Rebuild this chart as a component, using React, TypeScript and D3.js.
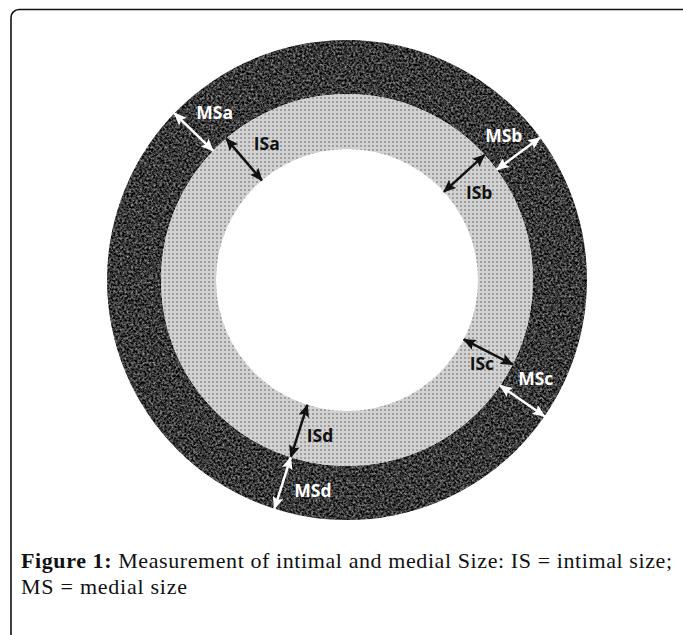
import { useMemo } from 'react';
import * as d3 from 'd3';

// ring boundaries (px radius) : lumen, intima, media
const ringNames = ['lumen', 'intima', 'media'];
const ringRadii = [131, 186, 240];

// measurement arrows
const measureLabels = ['ISa', 'MSa', 'ISb', 'MSb', 'ISc', 'MSc', 'ISd', 'MSd'];
const measureLayer = ['intima', 'media', 'intima', 'media', 'intima', 'media', 'intima', 'media'];
const measureAngle = [-130.5, -136, -42.3, -36.4, 27, 34.6, 107.6, 107.6];
const labelAngle = [-120.4, -128.4, -33.5, -42.6, 31.7, 27.6, 99.8, 99.2];

const captionBold = 'Figure 1:';
const captionLine1 = ' Measurement of intimal and medial Size: IS = intimal size;';
const captionLine2 = 'MS = medial size';

const W = 683;
const H = 635;
const cx = 347;
const cy = 280;

export default function App() {
    const rad = d3.scaleLinear().domain([0, 180]).range([0, Math.PI]);

    const arrows = useMemo(() => measureLabels.map((label, i) => {
        const li = ringNames.indexOf(measureLayer[i]);
        const r0 = ringRadii[li - 1];
        const r1 = ringRadii[li];
        const a = rad(measureAngle[i]);
        const la = rad(labelAngle[i]);
        const rm = (r0 + r1) / 2;
        const dark = measureLayer[i] === 'intima';
        return {
            label,
            x1: cx + r0 * Math.cos(a), y1: cy + r0 * Math.sin(a),
            x2: cx + r1 * Math.cos(a), y2: cy + r1 * Math.sin(a),
            lx: cx + rm * Math.cos(la), ly: cy + rm * Math.sin(la),
            color: dark ? '#111' : '#fff',
        };
    }), []);

    const ringArc = (inner: number, outer: number) =>
        d3.arc()({ innerRadius: inner, outerRadius: outer, startAngle: 0, endAngle: 2 * Math.PI }) as string;

    return (
        <svg width={W} height={H} style={{ position: 'absolute', left: 0, top: 0, background: '#fff' }}>
            <defs>
                <pattern id="dots" width={4} height={4} patternUnits="userSpaceOnUse">
                    <rect width={4} height={4} fill="#d2d2d2" />
                    <rect x={1} y={1} width={2} height={2} fill="#9e9e9e" />
                </pattern>
                <filter id="grain" x="0" y="0" width="100%" height="100%" colorInterpolationFilters="sRGB">
                    <feTurbulence type="fractalNoise" baseFrequency="0.45" numOctaves={4} seed={7} result="n" />
                    <feColorMatrix in="n" type="matrix"
                        values="1.05 0 0 0 -0.3  1.05 0 0 0 -0.3  1.05 0 0 0 -0.3  0 0 0 0 1" result="g" />
                    <feComposite in="g" in2="SourceAlpha" operator="in" />
                </filter>
                {['#111', '#fff'].map(c => (
                    <marker key={c} id={`head${c === '#fff' ? 'W' : 'B'}`} viewBox="0 0 13 11" refX={12} refY={5.5}
                        markerWidth={13} markerHeight={11} markerUnits="userSpaceOnUse" orient="auto-start-reverse">
                        <path d="M0,0 L13,5.5 L0,11 L2.5,5.5 Z" fill={c} />
                    </marker>
                ))}
            </defs>

            <rect x={11} y={9.5} width={690} height={640} rx={8} fill="none" stroke="#111" strokeWidth={1.6} />

            <g transform={`translate(${cx},${cy})`}>
                <path d={ringArc(ringRadii[1], ringRadii[2])} fill="#3a3a3a" filter="url(#grain)" />
                <path d={ringArc(ringRadii[0], ringRadii[1])} fill="url(#dots)" />
            </g>

            {arrows.map(d => (
                <g key={d.label}>
                    <line x1={d.x1} y1={d.y1} x2={d.x2} y2={d.y2} stroke={d.color} strokeWidth={2.5}
                        markerStart={`url(#head${d.color === '#fff' ? 'W' : 'B'})`}
                        markerEnd={`url(#head${d.color === '#fff' ? 'W' : 'B'})`} />
                    <text x={d.lx} y={d.ly} dy="0.36em" textAnchor="middle" fill={d.color}
                        fontFamily="Open Sans" fontWeight={700} fontSize={17.5}>{d.label}</text>
                </g>
            ))}

            <text x={21} y={568} fontFamily="Liberation Serif" fontSize={22} fill="#111"
                textLength={651} lengthAdjust="spacing">
                <tspan fontWeight="bold">{captionBold}</tspan>{captionLine1}
            </text>
            <text x={21} y={594} fontFamily="Liberation Serif" fontSize={22} fill="#111"
                textLength={166} lengthAdjust="spacing">{captionLine2}</text>
        </svg>
    );
}
